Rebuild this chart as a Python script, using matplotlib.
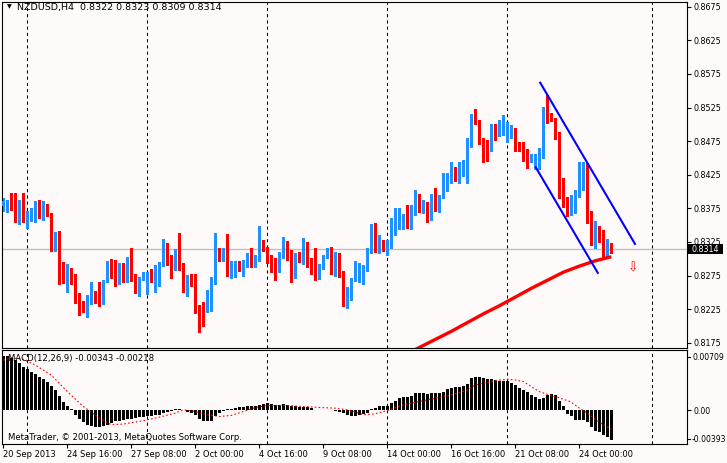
import matplotlib
matplotlib.use("Agg")
import matplotlib.pyplot as plt
import matplotlib.transforms as mtransforms
from matplotlib.patches import Rectangle
import numpy as np

# H4 bars, 20 Sep 2013 00:00 .. 25 Oct 2013 08:00
opens = [.8379, .8379, .8387, .8380, .8365, .8384, .8358, .8366, .8367, .8377,
         .8370, .8380, .8368, .8313, .8329, .8277, .8272, .8282, .8276, .8241,
         .8235, .8231, .8235, .8247, .8240, .8234, .8267, .8287, .8287, .8267,
         .8285, .8268, .8299, .8273, .8255, .8271, .8272, .8276, .8273, .8275,
         .8290, .8314, .8297, .8286, .8304, .8292, .8250, .8272, .8270, .8227,
         .8224, .8222, .8241, .8263, .8313, .8310, .8312, .8281, .8290, .8294,
         .8290, .8295, .8307, .8290, .8298, .8322, .8314, .8302, .8298, .8292,
         .8302, .8325, .8300, .8272, .8303, .8293, .8324, .8291, .8282, .8277,
         .8287, .8305, .8317, .8292, .8300, .8279, .8244, .8255, .8270, .8283,
         .8282, .8288, .8310, .8341, .8317, .8322, .8313, .8318, .8349, .8361,
         .8361, .8364, .8354, .8372, .8382, .8372, .8377, .8364, .8393, .8377,
         .8392, .8416, .8422, .8435, .8421, .8430, .8437, .8468, .8511, .8504,
         .8478, .8471, .8461, .8498, .8483, .8485, .8483, .8491, .8493, .8473,
         .8469, .8462, .8447, .8446, .8450, .8452, .8523, .8514, .8504, .8488,
         .8417, .8390, .8370, .8382, .8396, .8426, .8431, .8369, .8325, .8346,
         .8338, .8307, .8322]
highs = [.8390, .8387, .8398, .8398, .8388, .8398, .8371, .8375, .8386, .8387,
         .8386, .8381, .8368, .8340, .8341, .8295, .8292, .8286, .8277, .8249,
         .8237, .8246, .8266, .8252, .8266, .8268, .8296, .8300, .8298, .8293,
         .8293, .8302, .8316, .8277, .8273, .8281, .8281, .8284, .8290, .8295,
         .8330, .8323, .8305, .8314, .8339, .8293, .8276, .8277, .8277, .8231,
         .8235, .8253, .8273, .8339, .8316, .8316, .8337, .8296, .8296, .8296,
         .8298, .8308, .8316, .8306, .8348, .8328, .8318, .8305, .8301, .8310,
         .8333, .8326, .8313, .8308, .8310, .8331, .8325, .8301, .8316, .8292,
         .8306, .8316, .8318, .8310, .8308, .8282, .8258, .8272, .8297, .8293,
         .8291, .8316, .8351, .8353, .8335, .8328, .8328, .8360, .8375, .8375,
         .8367, .8380, .8380, .8402, .8397, .8387, .8385, .8397, .8405, .8395,
         .8428, .8428, .8444, .8437, .8444, .8447, .8479, .8515, .8523, .8507,
         .8479, .8476, .8500, .8500, .8507, .8514, .8504, .8499, .8495, .8474,
         .8474, .8464, .8456, .8456, .8465, .8526, .8544, .8517, .8510, .8489,
         .8420, .8392, .8395, .8402, .8444, .8444, .8442, .8371, .8356, .8348,
         .8343, .8329, .8323]
lows = [.8371, .8370, .8373, .8354, .8351, .8355, .8345, .8356, .8355, .8360,
        .8358, .8363, .8311, .8312, .8263, .8264, .8251, .8263, .8234, .8217,
        .8221, .8214, .8233, .8234, .8230, .8232, .8266, .8271, .8260, .8263,
        .8266, .8265, .8267, .8249, .8244, .8268, .8247, .8266, .8250, .8260,
        .8289, .8290, .8272, .8283, .8283, .8250, .8245, .8260, .8220, .8191,
        .8200, .8221, .8222, .8262, .8297, .8297, .8275, .8272, .8273, .8282,
        .8275, .8287, .8287, .8288, .8296, .8311, .8293, .8281, .8268, .8281,
        .8301, .8298, .8266, .8271, .8295, .8292, .8287, .8277, .8268, .8270,
        .8285, .8301, .8278, .8275, .8273, .8229, .8227, .8239, .8267, .8266,
        .8262, .8282, .8308, .8310, .8308, .8311, .8305, .8316, .8335, .8344,
        .8344, .8346, .8344, .8365, .8369, .8368, .8355, .8358, .8371, .8370,
        .8391, .8401, .8412, .8416, .8413, .8423, .8413, .8467, .8501, .8471,
        .8444, .8446, .8460, .8476, .8482, .8484, .8474, .8480, .8460, .8460,
        .8445, .8435, .8444, .8434, .8434, .8450, .8502, .8505, .8478, .8390,
        .8377, .8363, .8365, .8368, .8392, .8402, .8353, .8320, .8316, .8325,
        .8301, .8302, .8309]
closes = [.8386, .8387, .8379, .8367, .8383, .8363, .8365, .8370, .8376, .8369,
          .8379, .8368, .8316, .8330, .8275, .8272, .8283, .8273, .8241, .8233,
          .8231, .8237, .8249, .8236, .8235, .8267, .8286, .8283, .8268, .8287,
          .8268, .8301, .8272, .8257, .8270, .8278, .8276, .8272, .8275, .8291,
          .8313, .8297, .8287, .8303, .8293, .8251, .8270, .8270, .8226, .8223,
          .8221, .8241, .8266, .8313, .8310, .8314, .8282, .8290, .8294, .8291,
          .8294, .8306, .8290, .8299, .8323, .8316, .8298, .8296, .8293, .8302,
          .8324, .8301, .8272, .8302, .8296, .8323, .8288, .8280, .8277, .8288,
          .8304, .8314, .8292, .8298, .8280, .8244, .8255, .8270, .8285, .8285,
          .8288, .8311, .8340, .8318, .8322, .8317, .8319, .8350, .8362, .8362,
          .8363, .8355, .8371, .8381, .8373, .8377, .8363, .8394, .8377, .8391,
          .8419, .8422, .8436, .8422, .8430, .8439, .8468, .8512, .8502, .8474,
          .8468, .8462, .8498, .8482, .8486, .8498, .8492, .8493, .8474, .8464,
          .8460, .8445, .8448, .8451, .8454, .8524, .8514, .8508, .8484, .8416,
          .8391, .8370, .8385, .8397, .8426, .8431, .8368, .8326, .8348, .8338,
          .8307, .8321, .8314]

# moving average (only the visible part)
ma_bars = [103, 108, 112, 116, 120, 124, 128, 132, 136, 140, 144, 148, 152]
ma_vals = [.8165, .8180, .8192, .8205, .8218, .8230, .8243, .8256, .8268, .8280, .8289, .8297, .8303]

# channel drawn on the chart
chan_upper_bars = [134.2, 157.9]
chan_upper_vals = [.8562, .8322]
chan_lower_bars = [133.1, 148.6]
chan_lower_vals = [.8436, .8279]

arrow_bar, arrow_price = 157.4, .8286
bid = 0.8314

# MACD(12,26,9) histogram + signal
macd = [0.00636, 0.00636, 0.00617, 0.00590, 0.00551, 0.00512, 0.00485, 0.00454, 0.00423, 0.00396,
        0.00369, 0.00338, 0.00291, 0.00241, 0.00175, 0.00105, 0.00047, 0.00016, -0.00058, -0.00097,
        -0.00136, -0.00167, -0.00186, -0.00198, -0.00198, -0.00186, -0.00167, -0.00147, -0.00128, -0.00120,
        -0.00109, -0.00097, -0.00097, -0.00089, -0.00081, -0.00074, -0.00070, -0.00062, -0.00058, -0.00050,
        -0.00031, -0.00012, -0.00004, 0.00016, 0.00019, 0.00004, -0.00012, -0.00031, -0.00050, -0.00097,
        -0.00120, -0.00128, -0.00120, -0.00070, -0.00031, -0.00004, 0.00012, 0.00019, 0.00027, 0.00035,
        0.00043, 0.00047, 0.00054, 0.00058, 0.00066, 0.00081, 0.00085, 0.00074, 0.00066, 0.00066,
        0.00074, 0.00066, 0.00047, 0.00047, 0.00043, 0.00043, 0.00035, 0.00027, 0.00004, 0.00000,
        0.00004, 0.00008, 0.00008, -0.00004, -0.00012, -0.00031, -0.00058, -0.00070, -0.00062, -0.00050,
        -0.00039, -0.00031, 0.00016, 0.00027, 0.00047, 0.00058, 0.00058, 0.00085, 0.00116, 0.00144,
        0.00155, 0.00163, 0.00175, 0.00202, 0.00202, 0.00202, 0.00190, 0.00202, 0.00202, 0.00210,
        0.00221, 0.00248, 0.00260, 0.00272, 0.00279, 0.00291, 0.00310, 0.00376, 0.00388, 0.00388,
        0.00376, 0.00369, 0.00369, 0.00357, 0.00349, 0.00349, 0.00345, 0.00318, 0.00299, 0.00268,
        0.00241, 0.00213, 0.00182, 0.00155, 0.00132, 0.00144, 0.00182, 0.00194, 0.00182, 0.00116,
        0.00047, -0.00039, -0.00062, -0.00109, -0.00109, -0.00109, -0.00136, -0.00198, -0.00237, -0.00252,
        -0.00283, -0.00314, -0.00343]
sig_bars = [0, 2, 5, 8, 12, 16, 20, 24, 27, 30, 35, 39, 43, 45, 48, 51, 54, 57, 60, 63, 66, 71, 75,
            79, 83, 87, 90, 93, 96, 100, 104, 108, 112, 116, 118, 121, 124, 126, 128, 130, 132, 134,
            136, 138, 140, 142, 144, 146, 148, 150, 152]
sig_vals = [0.00590, 0.00617, 0.00600, 0.00532, 0.00415, 0.00221, 0.00047, -0.00089, -0.00167, -0.00159,
            -0.00120, -0.00078, -0.00031, 0.00008, -0.00012, -0.00050, -0.00070, -0.00058, -0.00012,
            0.00035, 0.00058, 0.00058, 0.00047, 0.00035, 0.00027, 0.00000, -0.00050, -0.00039, 0.00000,
            0.00066, 0.00105, 0.00144, 0.00182, 0.00241, 0.00299, 0.00330, 0.00357, 0.00365, 0.00357,
            0.00338, 0.00279, 0.00221, 0.00190, 0.00163, 0.00132, 0.00097, 0.00027, -0.00031, -0.00109,
            -0.00167, -0.00218]

price_ticks = [0.8175, 0.8225, 0.8275, 0.8325, 0.8375, 0.8425, 0.8475, 0.8525, 0.8575, 0.8625, 0.8675]
time_bars = [0, 16, 32, 48, 64, 80, 96, 112, 128, 144]
time_labels = ["20 Sep 2013", "24 Sep 16:00", "27 Sep 08:00", "2 Oct 00:00", "4 Oct 16:00",
               "9 Oct 08:00", "14 Oct 00:00", "16 Oct 16:00", "21 Oct 08:00", "24 Oct 00:00"]
grid_bars = [6, 36, 66, 96, 126, 162.2]

BG = "#fffafa"
UP = "#1e90ff"
DOWN = "#ff0000"
plt.rcParams["font.family"] = ["DejaVu Sans"]

W, H = 727, 463
fig = plt.figure(figsize=(W / 100, H / 100), dpi=100, facecolor=BG)


def box(x0, y0, x1, y1):
    return [x0 / W, 1 - y1 / H, (x1 - x0) / W, (y1 - y0) / H]


ax = fig.add_axes(box(2, 1.5, 687, 348), facecolor=BG)
axm = fig.add_axes(box(2, 350, 687, 444), facecolor=BG)

xlim = (-0.33, 170.9)
for a in (ax, axm):
    a.set_xlim(*xlim)
    for s in a.spines.values():
        s.set_linewidth(0.8)
        s.set_color("black")
    for g in grid_bars:
        a.axvline(g, color="black", lw=0.75, ls=(0, (3, 3)), zorder=0.5)

# ---- price panel
ylo, yhi = 0.816718, 0.868277
ax.set_ylim(ylo, yhi)
o = np.array(opens); h = np.array(highs); l = np.array(lows); c = np.array(closes)
x = np.arange(len(o))
col = np.where(c >= o, UP, DOWN)
ax.axhline(bid, color="#c0c0c0", lw=1.0, zorder=1)
ax.vlines(x, l, h, colors=col, lw=0.75, antialiased=False, zorder=2)
ax.bar(x, np.maximum(np.abs(c - o), 0.00012), bottom=np.minimum(o, c), width=0.62,
       color=col, lw=0, antialiased=False, zorder=3)
ax.plot(ma_bars, ma_vals, color="red", lw=2.4, zorder=4, solid_capstyle="butt")
ax.plot(chan_upper_bars, chan_upper_vals, color="#0000ff", lw=1.5, zorder=4)
ax.plot(chan_lower_bars, chan_lower_vals, color="#0000ff", lw=1.5, zorder=4)
ax.text(arrow_bar, arrow_price, "\u21e9", color="red", fontsize=9, ha="center", va="center", zorder=5)

ax.yaxis.tick_right()
ax.set_yticks(price_ticks)
ax.set_yticklabels(["%.4f" % v for v in price_ticks])
ax.tick_params(axis="y", direction="out", length=3, width=0.8, pad=2, labelsize=5.8)
ax.set_xticks([])

# bid box on the price scale
bt = mtransforms.blended_transform_factory(fig.transFigure, ax.transData)
dy = 5 * (yhi - ylo) / 346.5
fig.patches.append(Rectangle((688 / W, bid - dy), 35 / W, 2 * dy, transform=bt,
                             facecolor="black", edgecolor="none", zorder=5))
fig.text(692 / W, bid, "%.4f" % bid, transform=bt, color="white", fontsize=5.8,
         va="center", ha="left", zorder=6)

fig.text(9 / W, 1 - 7 / H, "\u25bc", fontsize=4.5, ha="center", va="center")
fig.text(17 / W, 1 - 7.5 / H, "NZDUSD,H4  0.8322 0.8323 0.8309 0.8314", fontsize=6.8,
         va="center", ha="left")

# ---- MACD panel
axm.set_ylim(-0.00393, 0.00709)
axm.bar(np.arange(len(macd)), macd, width=0.62, color="black", lw=0, antialiased=False, zorder=2)
axm.plot(sig_bars, sig_vals, color="red", lw=0.8, ls=(0, (1.5, 2)), zorder=3)
axm.set_yticks([0.0])
axm.set_yticklabels(["0.00"])
axm.yaxis.tick_right()
axm.tick_params(axis="y", direction="out", length=3, width=0.8, pad=2, labelsize=5.6)
for frac, lab in [(1 - 7 / 94, "0.00709"), (5 / 94, "-0.00393")]:
    axm.plot([1.0, 1.0 + 3 / 685], [frac, frac], color="black", lw=0.8,
             transform=axm.transAxes, clip_on=False)
    axm.text(1.0 + 5 / 685, frac, lab, transform=axm.transAxes, fontsize=5.6,
             va="center", ha="left")
axm.set_xticks(time_bars)
axm.set_xticklabels(time_labels, ha="left")
axm.tick_params(axis="x", direction="out", length=3, width=0.8, pad=1.5, labelsize=6.0)

fig.text(8 / W, 1 - 358 / H, "MACD(12,26,9) -0.00343 -0.00218", fontsize=6.1, va="center", ha="left")
fig.text(8 / W, 1 - 437 / H, "MetaTrader, \u00a9 2001-2013, MetaQuotes Software Corp.", fontsize=6.1,
         va="center", ha="left")

fig.savefig("out.png", dpi=100, facecolor=BG)
